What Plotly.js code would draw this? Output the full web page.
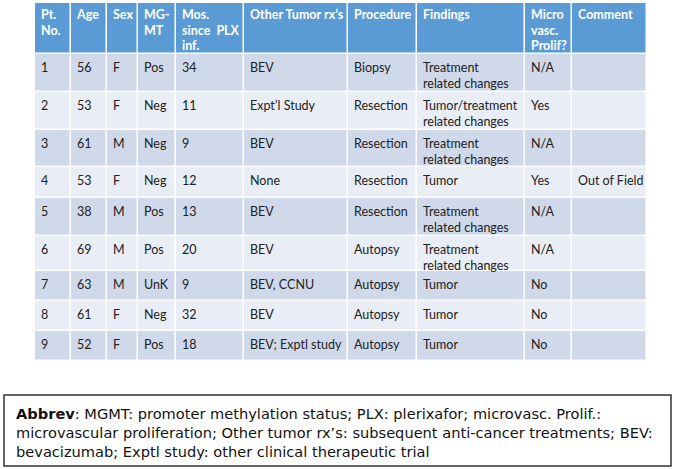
<!DOCTYPE html>
<html>
<head>
<meta charset="utf-8">
<script src="https://cdn.plot.ly/plotly-3.0.1.min.js"></script>
<style>html,body{margin:0;padding:0;background:#fff;}#chart{width:675px;height:469px;}</style>
</head>
<body>
<div id="chart"></div>
<script>
// ---- data ----
const headers = ["Pt.<br>No.", "Age", "Sex", "MG-<br>MT", "Mos.<br>since  PLX<br>inf.", "Other Tumor rx’s", "Procedure", "Findings", "Micro<br>vasc.<br>Prolif?", "Comment"];
const ptNo = ["1","2","3","4","5","6","7","8","9"];
const age = ["56","53","61","53","38","69","63","61","52"];
const sex = ["F","F","M","F","M","M","M","F","F"];
const mgmt = ["Pos","Neg","Neg","Neg","Pos","Pos","UnK","Neg","Pos"];
const mosSincePLX = ["34","11","9","12","13","20","9","32","18"];
const otherRx = ["BEV","Expt’l Study","BEV","None","BEV","BEV","BEV, CCNU","BEV","BEV; Exptl study"];
const procedure = ["Biopsy","Resection","Resection","Resection","Resection","Autopsy","Autopsy","Autopsy","Autopsy"];
const findings = ["Treatment<br>related changes","Tumor/treatment<br>related changes","Treatment<br>related changes","Tumor","Treatment<br>related changes","Treatment<br>related changes","Tumor","Tumor","Tumor"];
const microVasc = ["N/A","Yes","N/A","Yes","N/A","N/A","No","No","No"];
const comment = ["","","","Out of Field","","","","",""];
const footnote = "<b>Abbrev</b>: MGMT: promoter methylation status; PLX: plerixafor; microvasc. Prolif.:<br>microvascular proliferation; Other tumor rx’s: subsequent anti-cancer treatments; BEV:<br>bevacizumab; Exptl study: other clinical therapeutic trial";

// ---- layout / styling (pixel sizes) ----
const W = 675, H = 469;
const tableLeft = 35, tableTop = 3;
const colWidths = [36,36,31,38,68,104,69,108,47,75];
const rowHeights = [51,38,38,37,31,38,35,30,30,30]; // header + 9 rows
const padX = 6, padTopHeader = 7, padTopBody = 9, LINE = 15.5;
const FONT = "Lato, 'Open Sans', sans-serif";

const columns = [ptNo, age, sex, mgmt, mosSincePLX, otherRx, procedure, findings, microVasc, comment];

const xEdges = [tableLeft];
colWidths.forEach(w => xEdges.push(xEdges[xEdges.length - 1] + w));
const yEdges = [tableTop];
rowHeights.forEach(h => yEdges.push(yEdges[yEdges.length - 1] + h));

// cell fills via heatmap: 0 header, 1 odd row, 2 even row
const z = rowHeights.map((_, r) => colWidths.map(() => r === 0 ? 0 : (r % 2 === 1 ? 1 : 2)));

const fillTrace = {
  type: "heatmap",
  x: xEdges, y: yEdges, z: z,
  zmin: 0, zmax: 2,
  colorscale: [[0, "#5b9bd5"], [0.5, "#cfd9ea"], [1, "#e9edf5"]],
  showscale: false, xgap: 1.5, ygap: 1.5, hoverinfo: "skip"
};

// place each text line of a cell separately for exact line spacing
function pushCell(store, text, c, r, padTop) {
  text.split("<br>").forEach((line, i) => {
    store.x.push(xEdges[c] + padX);
    store.y.push(yEdges[r] + padTop + i * LINE);
    store.t.push(line);
  });
}

const hs = {x: [], y: [], t: []};
headers.forEach((h, c) => pushCell(hs, h, c, 0, padTopHeader));
const headerTrace = {
  type: "scatter", mode: "text", x: hs.x, y: hs.y, text: hs.t,
  textposition: "bottom right", hoverinfo: "skip",
  textfont: {family: FONT, size: 12.5, color: "#ffffff", weight: "bold"}
};

const bs = {x: [], y: [], t: []};
columns.forEach((col, c) => col.forEach((v, r) => {
  if (v !== "") pushCell(bs, v, c, r + 1, padTopBody);
}));
const bodyTrace = {
  type: "scatter", mode: "text", x: bs.x, y: bs.y, text: bs.t,
  textposition: "bottom right", hoverinfo: "skip",
  textfont: {family: FONT, size: 12.5, color: "#222222"}
};

const layout = {
  width: W, height: H,
  margin: {l: 0, r: 0, t: 0, b: 0},
  paper_bgcolor: "#ffffff", plot_bgcolor: "#ffffff",
  showlegend: false,
  xaxis: {range: [0, W], visible: false, fixedrange: true},
  yaxis: {range: [H, 0], visible: false, fixedrange: true},
  shapes: [{
    type: "rect", xref: "paper", yref: "paper",
    x0: 4/W, x1: 671/W, y0: 1 - 466/H, y1: 1 - 395/H,
    line: {color: "#333333", width: 1.5}, fillcolor: "rgba(0,0,0,0)"
  }],
  annotations: [{
    xref: "paper", yref: "paper",
    x: 14/W, y: 1 - 403/H, xanchor: "left", yanchor: "top",
    align: "left", showarrow: false,
    text: footnote,
    font: {family: "'DejaVu Sans', sans-serif", size: 14.6, color: "#111111"}
  }]
};

Plotly.newPlot("chart", [fillTrace, headerTrace, bodyTrace], layout, {displayModeBar: false, staticPlot: true});
</script>
</body>
</html>
